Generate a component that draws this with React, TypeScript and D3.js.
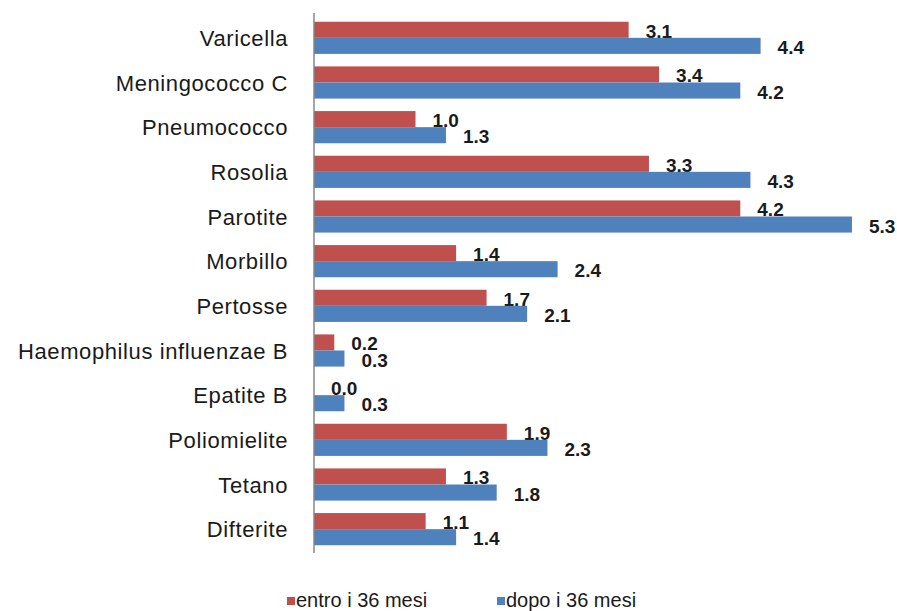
import React from "react";
import * as d3 from "d3";

const categories = [
  "Varicella",
  "Meningococco C",
  "Pneumococco",
  "Rosolia",
  "Parotite",
  "Morbillo",
  "Pertosse",
  "Haemophilus influenzae B",
  "Epatite B",
  "Poliomielite",
  "Tetano",
  "Difterite",
];
const entro = [3.1, 3.4, 1.0, 3.3, 4.2, 1.4, 1.7, 0.2, 0.0, 1.9, 1.3, 1.1];
const dopo = [4.4, 4.2, 1.3, 4.3, 5.3, 2.4, 2.1, 0.3, 0.3, 2.3, 1.8, 1.4];
const seriesNames = ["entro i 36 mesi", "dopo i 36 mesi"];
const colors = ["#C0504D", "#4F81BD"];

const W = 897;
const H = 611;

export default function App() {
  const x = d3.scaleLinear().domain([0, 6]).range([314, 923]);
  const y = d3
    .scaleBand<string>()
    .domain(categories)
    .range([15.5, 551.5])
    .paddingInner(0.28)
    .paddingOuter(0.14);
  const sub = d3
    .scaleBand<string>()
    .domain(seriesNames)
    .range([0, y.bandwidth()]);
  const series = [entro, dopo];
  const font = "'Liberation Sans', Arial, sans-serif";

  return (
    <svg
      width={W}
      height={H}
      style={{ position: "absolute", left: 0, top: 0, background: "#fff" }}
    >
      {categories.map((c, i) => {
        const y0 = y(c)!;
        const center = y0 + y.bandwidth() / 2;
        return (
          <g key={c}>
            <text
              x={288}
              y={center + 8}
              textAnchor="end"
              fontFamily={font}
              fontSize={22}
              letterSpacing={0.6}
              fill="#1a1a1a"
            >
              {c}
            </text>
            {series.map((s, k) => {
              const by = y0 + sub(seriesNames[k])!;
              const bh = sub.bandwidth();
              const xe = x(s[i]);
              return (
                <g key={k}>
                  <rect
                    x={x(0)}
                    y={by}
                    width={Math.max(0, xe - x(0))}
                    height={bh}
                    fill={colors[k]}
                  />
                  <text
                    x={xe + 17}
                    y={by + bh / 2 + 8}
                    fontFamily={font}
                    fontSize={19}
                    fontWeight="bold"
                    fill="#1a1a1a"
                  >
                    {s[i].toFixed(1)}
                  </text>
                </g>
              );
            })}
          </g>
        );
      })}
      <line x1={314} x2={314} y1={13} y2={553} stroke="#868686" strokeWidth={1.5} />
      {seriesNames.map((n, k) => {
        const lx = k === 0 ? 287 : 497;
        return (
          <g key={n}>
            <rect x={lx} y={597} width={8} height={8} fill={colors[k]} />
            <text x={lx + 9} y={607} fontFamily={font} fontSize={20} fill="#1a1a1a">
              {n}
            </text>
          </g>
        );
      })}
    </svg>
  );
}
